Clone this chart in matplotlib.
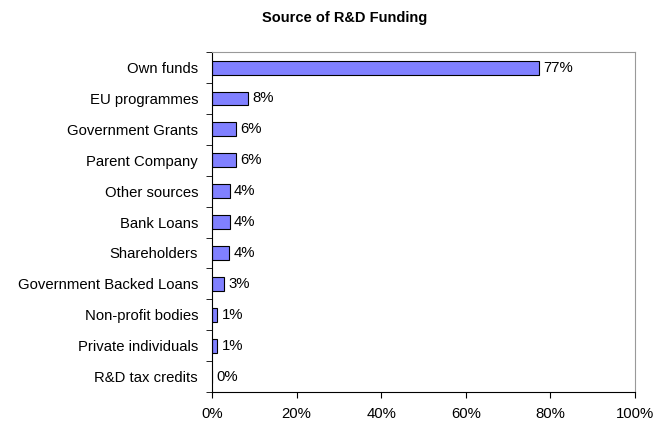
import matplotlib
matplotlib.use("Agg")
import matplotlib.pyplot as plt
import numpy as np
from matplotlib.ticker import FixedLocator, PercentFormatter

plt.rcParams['font.family'] = ['Liberation Sans', 'DejaVu Sans']

# data
sources = ['Own funds', 'EU programmes', 'Government Grants', 'Parent Company',
           'Other sources', 'Bank Loans', 'Shareholders', 'Government Backed Loans',
           'Non-profit bodies', 'Private individuals', 'R&D tax credits']
shares = [77.4, 8.6, 5.8, 5.8, 4.2, 4.2, 4.1, 2.8, 1.3, 1.3, 0.0]
labels = ['77%', '8%', '6%', '6%', '4%', '4%', '4%', '3%', '1%', '1%', '0%']

fig = plt.figure(figsize=(6.54, 4.24), dpi=100)
ax = fig.add_axes([0.324, 0.0755, 0.647, 0.8015])

y = np.arange(len(sources))
ax.barh(y, shares, height=0.45, color='#8080FF', edgecolor='black', linewidth=0.8)

for yi, v, lab in zip(y, shares, labels):
    ax.text(v + 1.0, yi, lab, va='center', ha='left', fontsize=10.75)

ax.set_ylim(len(sources) - 0.5, -0.5)
ax.set_xlim(0, 100)
ax.set_yticks(y)
ax.set_yticklabels(sources, fontsize=10.75)
ax.tick_params(axis='y', length=0, pad=10)
ax.yaxis.set_minor_locator(FixedLocator(np.arange(-0.5, len(sources), 1)))
ax.tick_params(axis='y', which='minor', length=4, direction='out')

ax.set_xticks(np.arange(0, 101, 20))
ax.xaxis.set_major_formatter(PercentFormatter(decimals=0))
ax.tick_params(axis='x', length=4, labelsize=10.75, pad=7)

for s in ['top', 'right']:
    ax.spines[s].set_color('#999999')
for s in ['left', 'bottom']:
    ax.spines[s].set_color('black')

fig.text(0.527, 0.958, 'Source of R&D Funding', fontsize=10.5, fontweight='bold',
         ha='center', va='center')

fig.savefig('out.png', dpi=100)
